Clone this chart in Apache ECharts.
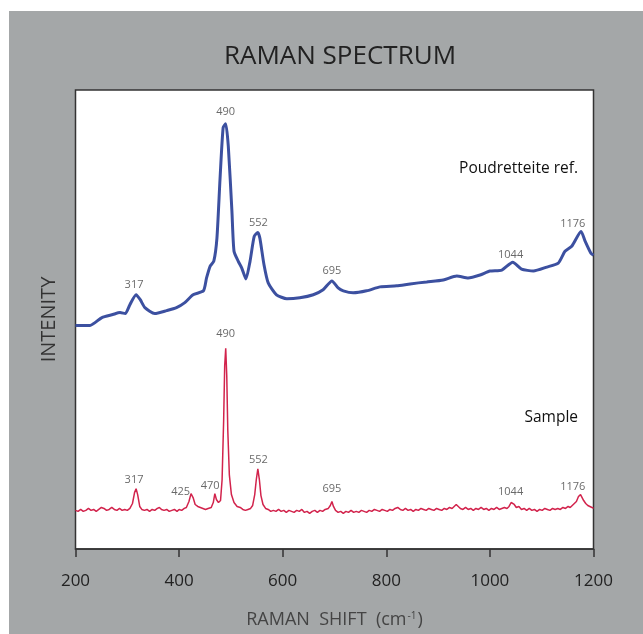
<!DOCTYPE html>
<html>
<head>
<meta charset="utf-8">
<script src="https://cdn.jsdelivr.net/npm/echarts@6/dist/echarts.min.js"></script>
<style>
html, body { margin: 0; padding: 0; background: #fff; }
#raman_chart { width: 643px; height: 634px; }
</style>
</head>
<body>
<div id="raman_chart"></div>
<script>
// Poudretteite reference spectrum (arbitrary intensity units)
var refShift = [200, 228, 251, 272, 286, 296, 305, 317, 325, 334, 353, 376, 395, 411, 427, 447, 453, 460, 467, 473, 479, 485, 490, 495, 502, 506, 514, 521, 529, 537, 545, 552, 556, 564, 572, 588, 608, 633, 659, 678, 695, 707, 717, 736, 762, 788, 820, 846, 878, 910, 936, 958, 981, 1000, 1023, 1044, 1061, 1084, 1110, 1132, 1145, 1158, 1176, 1184, 1195, 1200];
var refInt = [226, 226, 234, 237, 239, 238, 247, 257, 252, 244, 238, 241, 244, 249, 257, 261, 274, 286, 291, 314, 374, 426, 430, 407, 341, 301, 291, 284, 273, 291, 316, 320, 314, 287, 269, 257, 253, 254, 257, 262, 271, 264, 261, 259, 261, 265, 266, 268, 270, 272, 276, 274, 277, 281, 282, 290, 283, 281, 285, 289, 301, 306, 321, 311, 299, 297];

// Sample spectrum
var sampleShift = [200, 205, 210, 215, 220, 225, 230, 235, 240, 245, 250, 255, 260, 265, 270, 275, 280, 285, 290, 295,
    300, 305, 310, 314, 317, 320, 324, 328, 333, 338, 343, 348, 353, 358, 362, 366, 371, 376, 381, 386,
    391, 396, 400, 405, 410, 414, 419, 423, 427, 431, 436, 441, 446, 451, 456, 462, 466, 469, 472, 476,
    480, 483, 486, 488, 490, 492, 494, 497, 501, 506, 512, 518, 523, 528, 533, 538, 542, 546, 549, 552,
    555, 558, 562, 567, 572, 577, 582, 587, 592, 597, 602, 607, 612, 617, 622, 627, 632, 637, 642, 647,
    652, 657, 662, 667, 672, 677, 682, 688, 692, 695, 698, 702, 707, 712, 717, 722, 727, 732, 737, 742,
    747, 752, 757, 762, 767, 772, 777, 782, 787, 792, 797, 802, 807, 812, 817, 822, 827, 832, 837, 842,
    847, 852, 857, 862, 867, 872, 877, 882, 887, 892, 897, 902, 907, 912, 917, 922, 927, 931, 935, 939,
    943, 948, 953, 958, 963, 968, 973, 978, 983, 988, 993, 998, 1003, 1008, 1013, 1018, 1023, 1028, 1033, 1037,
    1041, 1044, 1047, 1051, 1056, 1061, 1066, 1071, 1076, 1081, 1086, 1091, 1096, 1101, 1106, 1111, 1116, 1121, 1126, 1131,
    1136, 1141, 1146, 1151, 1155, 1159, 1163, 1167, 1171, 1175, 1178, 1181, 1185, 1189, 1193, 1197, 1200];
var sampleInt = [39, 38, 40, 38, 39, 41, 39, 40, 38, 40, 42, 41, 39, 40, 42, 40, 39, 41, 39, 40,
    39, 41, 46, 57, 61, 55, 43, 40, 39, 40, 38, 40, 39, 41, 42, 40, 39, 40, 38, 39,
    40, 38, 40, 39, 41, 42, 48, 56, 52, 45, 43, 42, 41, 40, 41, 42, 47, 56, 50, 47,
    49, 70, 130, 185, 203, 175, 120, 75, 55, 47, 43, 42, 40, 39, 40, 41, 44, 55, 70, 81,
    70, 54, 45, 41, 40, 38, 39, 38, 40, 38, 39, 37, 39, 38, 37, 39, 38, 40, 37, 38,
    36, 38, 39, 37, 39, 38, 40, 41, 44, 48, 43, 39, 37, 38, 36, 38, 37, 39, 37, 38,
    37, 39, 38, 37, 39, 38, 40, 39, 38, 40, 39, 38, 40, 39, 41, 42, 40, 39, 41, 39,
    40, 38, 40, 39, 41, 40, 39, 41, 40, 39, 41, 40, 39, 41, 40, 42, 41, 43, 45, 43,
    41, 40, 42, 40, 41, 39, 41, 40, 42, 40, 41, 39, 41, 40, 42, 40, 41, 42, 41, 43,
    47, 48, 45, 42, 43, 40, 41, 39, 41, 39, 40, 38, 40, 39, 41, 40, 39, 41, 40, 41,
    40, 42, 41, 43, 42, 44, 46, 48, 53, 55, 53, 49, 46, 44, 43, 42, 41];

// peak annotations: text, x position, y position
var refPeakText = ['317', '490', '552', '695', '1044', '1176'];
var refPeakX = [313, 490, 553, 695, 1040, 1160];
var refPeakY = [267, 442, 330, 281, 297, 329];
var samplePeakText = ['317', '425', '470', '490', '552', '695', '1044', '1176'];
var samplePeakX = [313, 403, 460, 490, 553, 695, 1040, 1160];
var samplePeakY = [70, 58, 64, 217, 90, 61, 58, 63];

function zip(xs, ys, names) {
    var out = [];
    for (var i = 0; i < xs.length; i++) {
        out.push(names ? [xs[i], ys[i], names[i]] : [xs[i], ys[i]]);
    }
    return out;
}

var font = "'Open Sans', 'Noto Sans', sans-serif";
var chart = echarts.init(document.getElementById('raman_chart'));

var peakLabel = {
    show: true,
    position: 'inside',
    formatter: function (p) { return p.data[2]; },
    fontFamily: font,
    fontSize: 11,
    color: '#444'
};

chart.setOption({
    backgroundColor: '#fff',
    animation: false,
    graphic: [
        {type: 'rect', z: -10, shape: {x: 9, y: 11, width: 634, height: 623}, style: {fill: '#a4a7a8'}},
        {type: 'text', x: 340, y: 57, style: {text: 'RAMAN SPECTRUM', font: '26px ' + font, fill: '#222', textAlign: 'center', textVerticalAlign: 'middle'}},
        {type: 'text', x: 578, y: 169, z: 10, style: {text: 'Poudretteite ref.', font: '15.5px ' + font, fill: '#111', textAlign: 'right', textVerticalAlign: 'middle'}},
        {type: 'text', x: 578, y: 418, z: 10, style: {text: 'Sample', font: '15.5px ' + font, fill: '#111', textAlign: 'right', textVerticalAlign: 'middle'}}
    ],
    grid: {
        left: 75.5,
        right: 49.5,
        top: 90,
        bottom: 80,
        show: true,
        backgroundColor: '#fff',
        borderColor: '#333',
        borderWidth: 1.5
    },
    xAxis: {
        type: 'value',
        min: 200,
        max: 1200,
        interval: 200,
        name: 'RAMAN  SHIFT  (cm{sup|-1})',
        nameLocation: 'middle',
        nameGap: 62,
        nameTextStyle: {
            fontFamily: font, fontSize: 18, color: '#444',
            rich: {sup: {fontFamily: font, fontSize: 10, color: '#444', verticalAlign: 'top', padding: [0, 1, 8, 1]}}
        },
        axisLine: {lineStyle: {color: '#333', width: 1.5}},
        axisTick: {show: true, inside: false, length: 8, lineStyle: {color: '#333', width: 1.5}},
        axisLabel: {
            margin: 24, fontFamily: font, fontSize: 17, color: '#222',
            formatter: function (v) { return String(v); }
        },
        splitLine: {show: false}
    },
    yAxis: {
        type: 'value',
        min: 0,
        max: 464,
        name: 'INTENITY',
        nameLocation: 'middle',
        nameGap: 16,
        nameRotate: 90,
        nameTextStyle: {fontFamily: font, fontSize: 20, color: '#333'},
        axisLine: {show: false},
        axisTick: {show: false},
        axisLabel: {show: false},
        splitLine: {show: false}
    },
    series: [
        {
            name: 'Poudretteite ref.',
            type: 'line',
            smooth: 0.2,
            showSymbol: false,
            lineStyle: {color: '#3c50a0', width: 3},
            data: zip(refShift, refInt)
        },
        {
            name: 'Sample',
            type: 'line',
            smooth: false,
            showSymbol: false,
            lineStyle: {color: '#d2234c', width: 1.5},
            data: zip(sampleShift, sampleInt)
        },
        {
            type: 'scatter',
            symbolSize: 0,
            label: peakLabel,
            data: zip(refPeakX, refPeakY, refPeakText)
        },
        {
            type: 'scatter',
            symbolSize: 0,
            label: peakLabel,
            data: zip(samplePeakX, samplePeakY, samplePeakText)
        }
    ]
});
</script>
</body>
</html>
